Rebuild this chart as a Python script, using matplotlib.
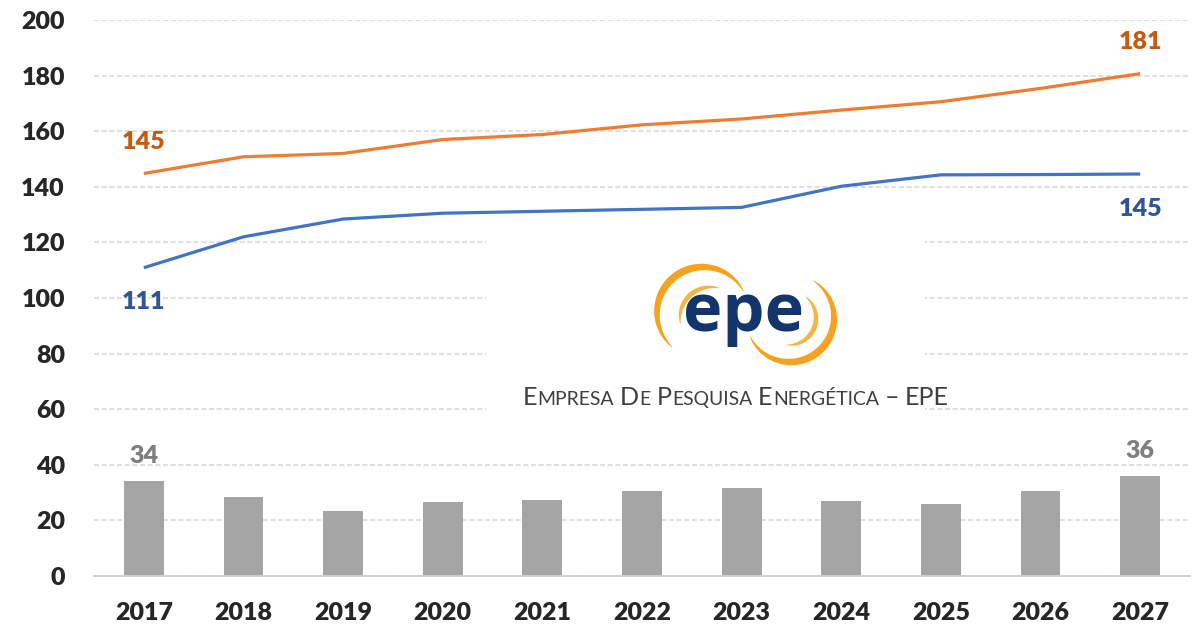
import matplotlib
matplotlib.use('Agg')
import matplotlib.pyplot as plt
import numpy as np
from matplotlib.patches import Polygon, Rectangle

# ---------------- data ----------------
years = ['2017', '2018', '2019', '2020', '2021', '2022', '2023', '2024', '2025', '2026', '2027']
series_orange = [144.8, 150.8, 152.0, 157.0, 158.8, 162.3, 164.4, 167.6, 170.6, 175.4, 180.7]
series_blue = [110.9, 122.0, 128.4, 130.5, 131.2, 131.9, 132.6, 140.2, 144.3, 144.4, 144.6]
bar_values = [34.0, 28.4, 23.5, 26.5, 27.5, 30.7, 31.5, 27.1, 25.9, 30.7, 36.1]
y_ticks = [0, 20, 40, 60, 80, 100, 120, 140, 160, 180, 200]
logo_word = 'epe'
logo_caption = [('E', 'L'), ('MPRESA', 'S'), (' ', 'G'), ('D', 'L'), ('E', 'S'), (' ', 'G'),
                ('P', 'L'), ('ESQUISA', 'S'), (' ', 'G'), ('E', 'L'), ('NERGÉTICA', 'S'),
                (' ', 'G'), ('–', 'L'), (' ', 'G'), ('EPE', 'L')]

W, H = 1201, 630
FONT = 'Lato'
C_ORANGE = '#ED7D31'
C_BLUE = '#4472C4'
C_BAR = '#A5A5A5'

fig = plt.figure(figsize=(W / 100, H / 100), dpi=100)
ax = fig.add_axes([94 / W, 1 - 576 / H, (1190 - 94) / W, (576 - 20) / H])

x = np.arange(len(years))
ax.bar(x, bar_values, width=0.4, color=C_BAR, zorder=2)
ax.plot(x, series_orange, color=C_ORANGE, lw=2.3, zorder=3, solid_joinstyle='round', solid_capstyle='butt')
ax.plot(x, series_blue, color=C_BLUE, lw=2.3, zorder=3, solid_joinstyle='round', solid_capstyle='butt')

ax.set_xlim(-0.5, len(years) - 0.5)
ax.set_ylim(0, 200)
ax.set_yticks(y_ticks)
ax.set_xticks(x)
ax.set_xticklabels(years)
ax.yaxis.grid(True, color='#D9D9D9', lw=1.2, linestyle=(0, (3, 1.6)), zorder=0)
ax.set_axisbelow(True)
for s in ['top', 'left', 'right']:
    ax.spines[s].set_visible(False)
ax.spines['bottom'].set_color('#D0D0D0')
ax.spines['bottom'].set_linewidth(1.4)
ax.spines['bottom'].set_zorder(2.5)
ax.tick_params(axis='both', length=0, labelsize=18, labelcolor='#262626')
ax.tick_params(axis='y', pad=21)
ax.tick_params(axis='x', pad=19)
for lab in ax.get_xticklabels() + ax.get_yticklabels():
    lab.set_fontfamily(FONT)
    lab.set_fontweight('heavy')

# data labels (first and last)
lab_kw = dict(textcoords='offset points', ha='center', va='center', fontsize=18,
              fontweight='heavy', family=FONT)
for i in [0, len(years) - 1]:
    ax.annotate(f"{round(series_orange[i])}", (x[i], series_orange[i]), xytext=(0, 23),
                color='#C55A11', **lab_kw)
    ax.annotate(f"{round(series_blue[i])}", (x[i], series_blue[i]), xytext=(0, -25),
                color='#2F5597', **lab_kw)
    ax.annotate(f"{round(bar_values[i])}", (x[i], bar_values[i]), xytext=(0, 18),
                color='#7F7F7F', **lab_kw)

# ---------------- logo ----------------
def px(xp, yp):
    return np.asarray(xp) / W, 1 - np.asarray(yp) / H

# white backdrop masking the gridlines behind the logo
bx0, by0 = px(486, 430)
fig.patches.append(Rectangle((bx0, by0), (925 - 486) / W, (430 - 225) / H,
                             transform=fig.transFigure, facecolor='white',
                             edgecolor='none', zorder=1))

def tapered_arc(cx, cy, r, a0, a1, tmax, color):
    th = np.radians(np.linspace(a0, a1, 120))
    s = np.linspace(0, 1, 120)
    t = tmax * np.sin(np.pi * s) ** 0.8 + 0.4
    ro, ri = r + t / 2, r - t / 2
    xo, yo = cx + ro * np.cos(th), cy - ro * np.sin(th)
    xi, yi = cx + ri * np.cos(th), cy - ri * np.sin(th)
    xs = np.concatenate([xo, xi[::-1]])
    ys = np.concatenate([yo, yi[::-1]])
    fx, fy = px(xs, ys)
    fig.patches.append(Polygon(np.column_stack([fx, fy]), closed=True,
                               transform=fig.transFigure, facecolor=color,
                               edgecolor='none', zorder=2))

tapered_arc(703, 313, 46, 28, 228, 7, '#F5A21E')
tapered_arc(711, 318, 31, 75, 190, 4.5, '#F7B444')
tapered_arc(790, 318, 44, -155, 58, 7, '#F5A21E')
tapered_arc(789, 318, 27, -95, 52, 4.5, '#F7B444')

lx, ly = px(744, 331)
fig.text(lx, ly, logo_word, ha='center', va='baseline', fontsize=48,
         color='#13356B', family='Open Sans', fontweight='bold', zorder=3)

# small-caps caption
renderer = fig.canvas.get_renderer()
def layout(scale):
    sizes = {'L': 15.5 * scale, 'S': 12.0 * scale, 'G': 12.0 * scale}
    items = []
    cur = 0.0
    for txt, kind in logo_caption:
        if kind == 'G':
            cur += 4.2 * scale
            continue
        t = fig.text(0, 0, txt, fontsize=sizes[kind], family=FONT, color='#3F3F3F',
                     ha='left', va='baseline', zorder=3)
        w = t.get_window_extent(renderer).width
        items.append((t, cur))
        cur += w + 0.6 * scale
    return items, cur

items, total = layout(1.0)
scale = (950 - 522) / total
for t, _ in items:
    t.remove()
items, total = layout(scale)
start = (522 + 950) / 2 - total / 2
for t, off in items:
    fxp, fyp = px(start + off, 405)
    t.set_position((fxp, fyp))

fig.savefig('out.png', dpi=100)
